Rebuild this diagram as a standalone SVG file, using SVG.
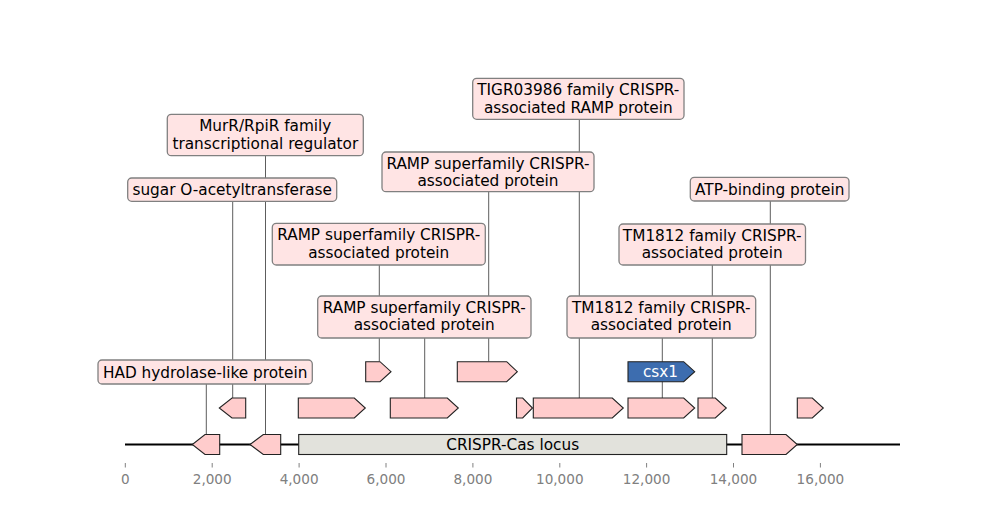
<svg xmlns="http://www.w3.org/2000/svg" width="1000" height="520" viewBox="0 0 1000 520">
<style>
text{font-family:"DejaVu Sans","Liberation Sans",sans-serif;font-size:15.3px;fill:#000}
.lbl{text-anchor:middle}
.box{fill:#ffe4e4;stroke:#808080;stroke-width:1.3}
.gene{fill:#ffcccc;stroke:#222;stroke-width:1.1;stroke-linejoin:miter}
.conn line{stroke:#333;stroke-width:0.8}
.tick{stroke:#808080;stroke-width:1}
.tl{font-size:13.6px;fill:#808080;text-anchor:middle}
</style>
<rect width="1000" height="520" fill="#fff"/>
<g id="axis">
<line x1="125" y1="444.5" x2="900" y2="444.5" stroke="#000" stroke-width="2"/>
<g class="ticks">
<line class="tick" x1="125.3" y1="463" x2="125.3" y2="467.5"/>
<line class="tick" x1="212.2" y1="463" x2="212.2" y2="467.5"/>
<line class="tick" x1="299.1" y1="463" x2="299.1" y2="467.5"/>
<line class="tick" x1="386" y1="463" x2="386" y2="467.5"/>
<line class="tick" x1="472.9" y1="463" x2="472.9" y2="467.5"/>
<line class="tick" x1="559.8" y1="463" x2="559.8" y2="467.5"/>
<line class="tick" x1="646.6" y1="463" x2="646.6" y2="467.5"/>
<line class="tick" x1="733.5" y1="463" x2="733.5" y2="467.5"/>
<line class="tick" x1="820.4" y1="463" x2="820.4" y2="467.5"/>
</g>
<text class="tl" x="125.3" y="484">0</text>
<text class="tl" x="212.2" y="484">2,000</text>
<text class="tl" x="299.1" y="484">4,000</text>
<text class="tl" x="386" y="484">6,000</text>
<text class="tl" x="472.9" y="484">8,000</text>
<text class="tl" x="559.8" y="484">10,000</text>
<text class="tl" x="646.6" y="484">12,000</text>
<text class="tl" x="733.5" y="484">14,000</text>
<text class="tl" x="820.4" y="484">16,000</text>
</g>
<g id="connectors" class="conn">
<line x1="206.3" y1="384" x2="206.3" y2="434.5"/>
<line x1="265.5" y1="155.7" x2="265.5" y2="434.5"/>
<line x1="232.7" y1="201.3" x2="232.7" y2="398"/>
<line x1="379.3" y1="265" x2="379.3" y2="361.5"/>
<line x1="424.7" y1="338" x2="424.7" y2="398"/>
<line x1="488.7" y1="191.7" x2="488.7" y2="361.5"/>
<line x1="579.3" y1="119.3" x2="579.3" y2="398"/>
<line x1="662.3" y1="338" x2="662.3" y2="398"/>
<line x1="712.3" y1="265" x2="712.3" y2="398"/>
<line x1="770.3" y1="201" x2="770.3" y2="434.5"/>
</g>
<g id="locus">
<rect x="298.7" y="434.5" width="428" height="20" fill="#e2e2dc" stroke="#222" stroke-width="1.1"/>
<text class="lbl" x="512.7" y="450">CRISPR-Cas locus</text>
</g>
<g id="gene-had"><polygon class="gene" points="219.7,434.5 205,434.5 192.3,444.5 205,454.5 219.7,454.5"/></g>
<g id="gene-murr"><polygon class="gene" points="280.7,434.5 263.3,434.5 250,444.5 263.3,454.5 280.7,454.5"/></g>
<g id="gene-atp"><polygon class="gene" points="742,434.5 786,434.5 797.3,444.5 786,454.5 742,454.5"/></g>
<g id="gene-sugar"><polygon class="gene" points="245.7,398 232,398 219.3,408 232,418 245.7,418"/></g>
<g id="gene-l1a"><polygon class="gene" points="298.3,398 354.3,398 365.3,408 354.3,418 298.3,418"/></g>
<g id="gene-ramp3"><polygon class="gene" points="390.3,398 447.3,398 458.3,408 447.3,418 390.3,418"/></g>
<g id="gene-l1b"><polygon class="gene" points="516.5,398 522.7,398 532.5,408 522.7,418 516.5,418"/></g>
<g id="gene-tigr"><polygon class="gene" points="533.3,398 612.3,398 623.3,408 612.3,418 533.3,418"/></g>
<g id="gene-tm1"><polygon class="gene" points="628,398 683.7,398 694.7,408 683.7,418 628,418"/></g>
<g id="gene-tm2"><polygon class="gene" points="698,398 715.3,398 726.3,408 715.3,418 698,418"/></g>
<g id="gene-l1c"><polygon class="gene" points="797.3,398 812.3,398 823.3,408 812.3,418 797.3,418"/></g>
<g id="gene-ramp1"><polygon class="gene" points="365.7,361.7 380,361.7 391,371.7 380,381.7 365.7,381.7"/></g>
<g id="gene-ramp2"><polygon class="gene" points="457.3,361.7 506.7,361.7 517.3,371.7 506.7,381.7 457.3,381.7"/></g>
<g id="gene-csx1">
<polygon points="628,361.7 683.7,361.7 694.7,371.7 683.7,381.7 628,381.7" fill="#3d6daf" stroke="#222" stroke-width="1.1"/>
<text class="lbl" x="660.5" y="377" style="fill:#fff">csx1</text>
</g>
<g id="label-had">
<rect class="box" x="98" y="360" width="214.3" height="24" rx="4"/>
<text class="lbl" x="205.2" y="377.5">HAD hydrolase-like protein</text>
</g>
<g id="label-sugar">
<rect class="box" x="127.7" y="178" width="209" height="23.3" rx="4"/>
<text class="lbl" x="232.2" y="195">sugar O-acetyltransferase</text>
</g>
<g id="label-murr">
<rect class="box" x="167.3" y="114.3" width="196" height="41.4" rx="4"/>
<text class="lbl" x="265.3" y="131">MurR/RpiR family</text>
<text class="lbl" x="265.3" y="148.5">transcriptional regulator</text>
</g>
<g id="label-tigr">
<rect class="box" x="472.7" y="78.3" width="211.3" height="41" rx="4"/>
<text class="lbl" x="578.3" y="95">TIGR03986 family CRISPR-</text>
<text class="lbl" x="578.3" y="112.5">associated RAMP protein</text>
</g>
<g id="label-ramp2">
<rect class="box" x="382" y="152" width="212" height="39.7" rx="4"/>
<text class="lbl" x="488" y="168.5">RAMP superfamily CRISPR-</text>
<text class="lbl" x="488" y="186">associated protein</text>
</g>
<g id="label-atp">
<rect class="box" x="690.3" y="177.3" width="158.7" height="23.7" rx="4"/>
<text class="lbl" x="769.7" y="194.5">ATP-binding protein</text>
</g>
<g id="label-ramp1">
<rect class="box" x="272.3" y="223.3" width="213" height="41.7" rx="4"/>
<text class="lbl" x="378.8" y="240">RAMP superfamily CRISPR-</text>
<text class="lbl" x="378.8" y="257.5">associated protein</text>
</g>
<g id="label-tm2">
<rect class="box" x="619" y="224" width="186.5" height="41" rx="4"/>
<text class="lbl" x="712.2" y="240.5">TM1812 family CRISPR-</text>
<text class="lbl" x="712.2" y="258">associated protein</text>
</g>
<g id="label-ramp3">
<rect class="box" x="317.7" y="296" width="213.3" height="42" rx="4"/>
<text class="lbl" x="424.3" y="312.7">RAMP superfamily CRISPR-</text>
<text class="lbl" x="424.3" y="330">associated protein</text>
</g>
<g id="label-tm1">
<rect class="box" x="567" y="296" width="188.7" height="42" rx="4"/>
<text class="lbl" x="661.3" y="312.7">TM1812 family CRISPR-</text>
<text class="lbl" x="661.3" y="330">associated protein</text>
</g>
</svg>
